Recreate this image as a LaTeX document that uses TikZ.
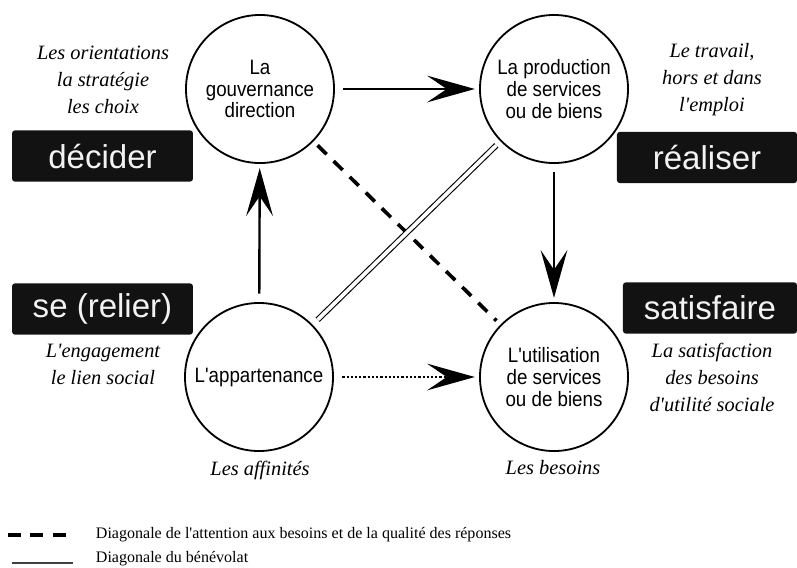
\documentclass[tikz,border=0pt]{standalone}
\usepackage{fontspec}
\setmainfont{Liberation Serif}[Ligatures=TeXOff]
\newfontfamily\circfont[FakeStretch=0.9]{Liberation Sans}
\newfontfamily\boxfont{Liberation Sans}
\usetikzlibrary{arrows.meta}

\begin{document}
\begin{tikzpicture}[x=0.025cm, y=-0.025cm,
                    pole/.style={circle, draw, line width=1.3pt, minimum size=3.7cm, inner sep=0pt,
                                 align=center, font=\circfont\fontsize{14.8}{15.6}\selectfont},
                    verb/.style={fill=black!93, rounded corners=2pt, text=white!95!black,
                                 minimum height=1.28cm, inner sep=0pt,
                                 font=\boxfont\fontsize{23.5}{27}\selectfont},
                    note/.style={align=center, font=\itshape\fontsize{14.5}{19.2}\selectfont},
                    flow/.style={line width=1.7pt, -{Stealth[length=34pt, width=19pt, inset=14pt]},
                                 shorten <=6pt, shorten >=3pt},
                    attention/.style={line width=2.6pt, dash pattern=on 9pt off 7pt},
                    benevolat/.style={double, line width=0.8pt, double distance=2.6pt}]
  \useasboundingbox (0,0) rectangle (797,567);
  % les quatre poles
  \node[pole] (gouv) at (260,89) {La\\gouvernance\\direction};
  \node[pole] (prod) at (554,89) {La production\\de services\\ou de biens};
  \node[pole] (appart) at (259,377) {L'appartenance};
  \node[pole] (util) at (554,377) {L'utilisation\\de services\\ou de biens};
  % les verbes
  \node[verb, minimum width=4.52cm] (decider) at (102.5,156) {décider};
  \node[verb, minimum width=4.5cm] (realiser) at (707,157.5) {réaliser};
  \node[verb, minimum width=4.52cm] (relier) at (102.5,309) {se (relier)};
  \node[verb, minimum width=4.35cm] (satisfaire) at (710,308) {satisfaire};
  % les commentaires
  \node[note] (orient) at (103,80) {Les orientations\\la stratégie\\les choix};
  \node[note] (travail) at (712,80) {Le travail,\\hors et dans\\l'emploi};
  \node[note] (engag) at (103,364) {L'engagement\\le lien social};
  \node[note] (satisf) at (712,377) {La satisfaction\\des besoins\\d'utilité sociale};
  \node[note] (affin) at (260,470) {Les affinités};
  \node[note] (besoins) at (553,468) {Les besoins};
  % les liens
  \draw[flow] (gouv) -- (prod);
  \draw[flow] (prod) -- (util);
  \draw[flow] (appart) -- (gouv);
  \draw[flow, dash pattern=on 1.6pt off 1.4pt] (appart) -- (util);
  \draw[attention, shorten <=4pt, shorten >=4pt] (gouv) -- (util);
  \draw[benevolat, shorten <=5pt, shorten >=4pt] (appart) -- (prod);
  % la legende
  \coordinate (l1a) at (8,535);
  \coordinate (l1b) at (68,535);
  \coordinate (l2a) at (12,563);
  \coordinate (l2b) at (73,563);
  \draw[attention, line width=2.4pt] (l1a) -- (l1b);
  \draw[line width=1.2pt, black!75] (l2a) -- (l2b);
  \node[anchor=west, font=\fontsize{11.4}{13}\selectfont] (leg1) at (91,535)
    {Diagonale de l'attention aux besoins et de la qualité des réponses};
  \node[anchor=west, font=\fontsize{11.4}{13}\selectfont] (leg2) at (91,559)
    {Diagonale du bénévolat};
\end{tikzpicture}
\end{document}
